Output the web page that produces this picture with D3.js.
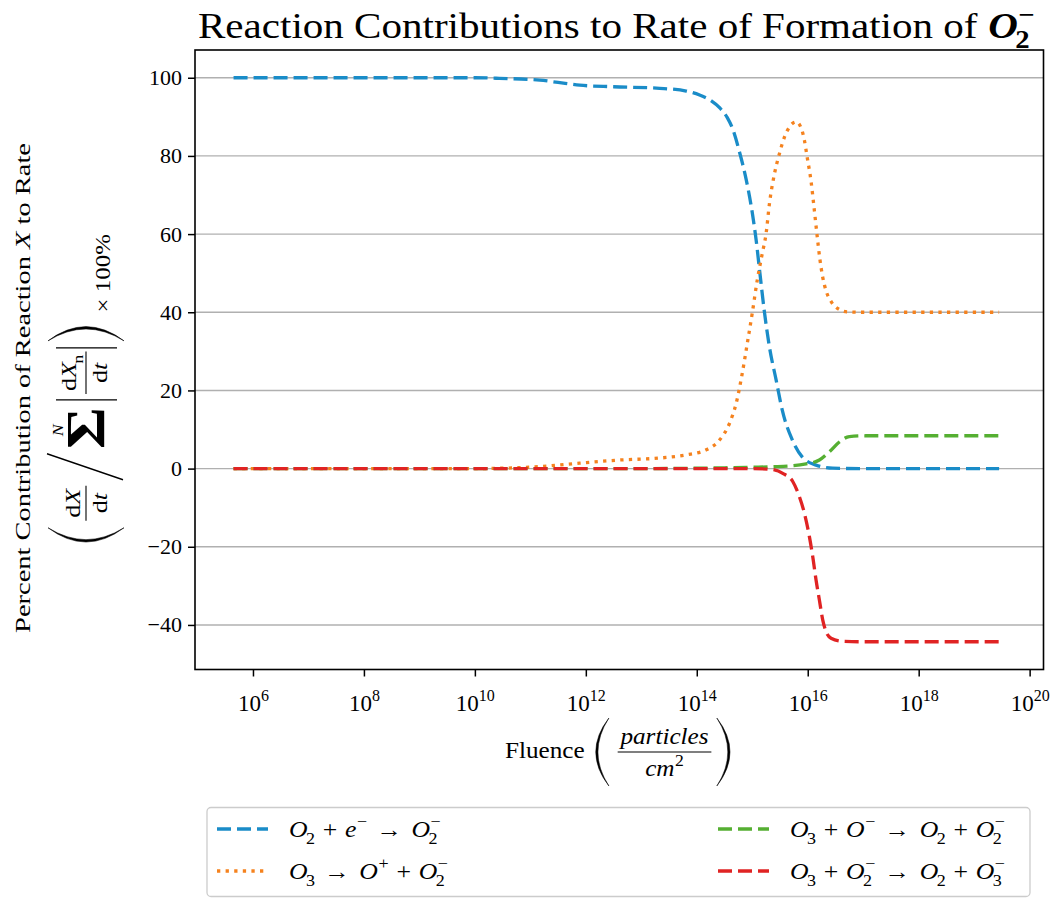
<!DOCTYPE html>
<html>
<head>
<meta charset="utf-8">
<script src="https://cdn.jsdelivr.net/npm/d3@7/dist/d3.min.js"></script>
<style>
  body { margin: 0; background: #ffffff; }
  svg { display: block; }
  text { font-family: "Liberation Serif", "DejaVu Serif", serif; fill: #000; white-space: pre; }
</style>
</head>
<body>
<svg id="chart" width="1057" height="899"></svg>
<script>
// log10 of fluence (particles/cm^2) and percent contribution of each reaction
const attachExp = [5.65, 6, 7, 8, 9, 10, 10.44, 11.17, 11.5, 11.89, 12.5, 13.33, 13.81, 14.05, 14.25, 14.42, 14.55, 14.65, 14.77, 14.89, 15.0, 15.07, 15.13, 15.22, 15.31, 15.43, 15.54, 15.72, 15.9, 16.15, 16.45, 17, 18, 19.45];
const attachPct = [100, 100, 100, 100, 100, 100, 99.85, 99.4, 98.8, 98.1, 97.7, 97.3, 96.6, 95.6, 94.2, 92.2, 89.8, 86.8, 81, 74, 65.5, 58.5, 51, 40, 31.1, 22.7, 15, 7.4, 3, 0.9, 0.1, 0, 0, 0];

const dissocExp = [5.65, 8, 10, 10.5, 11.17, 11.89, 12.61, 13.33, 13.81, 14.17, 14.41, 14.59, 14.71, 14.82, 14.91, 15.0, 15.09, 15.18, 15.25, 15.31, 15.40, 15.49, 15.58, 15.67, 15.79, 15.88, 15.94, 15.99, 16.06, 16.12, 16.17, 16.22, 16.27, 16.33, 16.42, 16.57, 16.72, 17, 18, 19.45];
const dissocPct = [0, 0, 0, 0.1, 0.5, 1.4, 2.2, 2.7, 3.5, 4.8, 7.3, 11.6, 16.7, 24.4, 32, 39.8, 48.2, 55, 60.2, 67.8, 75.4, 80.6, 84.8, 87.4, 88.7, 87.2, 84, 79.7, 73.5, 66, 59.5, 53.5, 49, 45.5, 42.8, 40.7, 40.1, 40, 40, 40];

const chargeExp = [5.65, 10, 13, 14, 14.5, 15, 15.43, 15.97, 16.21, 16.39, 16.57, 16.75, 17.05, 18, 19.45];
const chargePct = [0, 0, 0, 0.1, 0.2, 0.35, 0.5, 1.2, 2.2, 4.3, 6.8, 8.2, 8.4, 8.4, 8.4];

const transferExp = [5.65, 10, 14, 15, 15.31, 15.55, 15.73, 15.85, 15.94, 16.03, 16.09, 16.15, 16.21, 16.27, 16.33, 16.42, 16.63, 17, 18, 19.45];
const transferPct = [0, 0, 0, 0, -0.15, -1.2, -3.3, -7.2, -11.4, -17.4, -22.5, -28.5, -33.6, -38.7, -41.7, -43.4, -44.2, -44.3, -44.3, -44.3];

const reactionLabels = [
  "O_2 + e^- → O_2^-",
  "O_3 → O^+ + O_2^-",
  "O_3 + O^- → O_2 + O_2^-",
  "O_3 + O_2^- → O_2 + O_3^-"
];
const yTicks = [-40, -20, 0, 20, 40, 60, 80, 100];
const xTickExps = [6, 8, 10, 12, 14, 16, 18, 20];
const titleText = "Reaction Contributions to Rate of Formation of ";
const titleSpecies = "O_2^-";
const yLabelParts = ["Percent Contribution of Reaction ", "X", " to Rate"];
const xLabelWord = "Fluence";
const xLabelNum = "particles";
const xLabelDen = "cm^2";

// drawing styles, one per reaction
const lineStyles = [
  { color: "#1a8cc8", dash: "14,6" },
  { color: "#f5821e", dash: "3.3,5.3" },
  { color: "#55af32", dash: "14,6" },
  { color: "#e02323", dash: "14,6" }
];

const series = [
  { exp: attachExp, pct: attachPct },
  { exp: dissocExp, pct: dissocPct },
  { exp: chargeExp, pct: chargePct },
  { exp: transferExp, pct: transferPct }
];

const svg = d3.select("#chart");
const M = { left: 195, right: 1043.5, top: 50, bottom: 669.5 };

const x = d3.scaleLog().domain([10 ** 4.955, 10 ** 20.25]).range([M.left, M.right]);
const y = d3.scaleLinear().domain([-51.4, 107.1]).range([M.bottom, M.top]);

// ---- small math-text helpers ----
// letters are italic unless prefixed with "!", scripts are upright
function parseMath(src) {
  const toks = [];
  let i = 0, roman = false;
  while (i < src.length) {
    const c = src[i];
    if (c === " ") { i++; continue; }
    if (c === "!") { roman = true; i++; continue; }
    if (c === "_" || c === "^") {
      const s = src[i + 1] === "-" ? "−" : src[i + 1];
      const last = toks[toks.length - 1];
      if (c === "_") last.sub = s; else last.sup = s;
      i += 2; continue;
    }
    toks.push({ s: c, italic: !roman && /[A-Za-z]/.test(c), op: c === "+" || c === "→" });
    roman = false;
    i++;
  }
  return toks;
}

function drawMath(parent, x0, y0, src, fs, weight, opPad) {
  let cx = x0;
  const pads = opPad || { "+": 0.22, "→": 0.28 };
  for (const t of parseMath(src)) {
    const pad = t.op ? pads[t.s] * fs : 0;
    cx += pad;
    const el = parent.append("text")
      .attr("x", cx).attr("y", y0)
      .attr("font-size", fs)
      .attr("font-style", t.italic ? "italic" : "normal")
      .attr("font-weight", weight || "normal")
      .text(t.s);
    cx += el.node().getComputedTextLength();
    let sw = 0;
    const sfs = fs * 0.7;
    if (t.sub) {
      const s = parent.append("text").attr("x", cx - (t.italic ? 0.06 * fs : 0)).attr("y", y0 + 0.3 * fs)
        .attr("font-size", sfs).attr("font-weight", weight || "normal").text(t.sub);
      sw = Math.max(sw, s.node().getComputedTextLength() - (t.italic ? 0.06 * fs : 0));
    }
    if (t.sup) {
      const s = parent.append("text").attr("x", cx + 0.02 * fs).attr("y", y0 - 0.42 * fs)
        .attr("font-size", sfs).attr("font-weight", weight || "normal").text(t.sup);
      sw = Math.max(sw, s.node().getComputedTextLength() + 0.02 * fs);
    }
    cx += sw + pad;
  }
  return cx - x0;
}

function bigParen(g, x0, top, bot, w, open) {
  const mid = (top + bot) / 2, t = 2.0;
  let p;
  if (open) {
    const ax = x0 + w, co = 2 * x0 - ax, ci = 2 * (x0 + t) - ax;
    p = `M${ax},${top} Q${co},${mid} ${ax},${bot} Q${ci},${mid} ${ax},${top} Z`;
  } else {
    const ax = x0, co = 2 * (x0 + w) - ax, ci = 2 * (x0 + w - t) - ax;
    p = `M${ax},${top} Q${co},${mid} ${ax},${bot} Q${ci},${mid} ${ax},${top} Z`;
  }
  g.append("path").attr("d", p).attr("fill", "#000").attr("stroke", "#000").attr("stroke-width", 0.5);
}

function frac(g, x0, num, den, fs, gapNum, gapDen) {
  const gn = g.append("g"), gd = g.append("g");
  const wn = drawMath(gn, 0, 0, num, fs), wd = drawMath(gd, 0, 0, den, fs);
  const w = Math.max(wn, wd) + 5;
  gn.attr("transform", `translate(${x0 + (w - wn) / 2},${-gapNum})`);
  gd.attr("transform", `translate(${x0 + (w - wd) / 2},${(gapDen || gapNum) + fs * 0.68})`);
  g.append("line").attr("x1", x0).attr("x2", x0 + w).attr("y1", 0).attr("y2", 0)
    .attr("stroke", "#000").attr("stroke-width", 1.1);
  return w;
}

// ---- grid ----
svg.append("g").selectAll("line").data(yTicks).join("line")
  .attr("x1", M.left).attr("x2", M.right)
  .attr("y1", d => y(d)).attr("y2", d => y(d))
  .attr("stroke", "#b0b0b0").attr("stroke-width", 1.4);

// ---- series ----
const line = d3.line()
  .x(d => x(10 ** d[0]))
  .y(d => y(d[1]))
  .curve(d3.curveMonotoneX);

svg.append("g").selectAll("path").data(series).join("path")
  .attr("d", s => line(s.exp.map((e, i) => [e, s.pct[i]])))
  .attr("fill", "none")
  .attr("stroke", (s, i) => lineStyles[i].color)
  .attr("stroke-width", 3.3)
  .attr("stroke-dasharray", (s, i) => lineStyles[i].dash);

// ---- axes ----
const yAxis = svg.append("g").attr("transform", `translate(${M.left},0)`)
  .call(d3.axisLeft(y).tickValues(yTicks).tickSize(7).tickPadding(6)
    .tickFormat(d => d < 0 ? "−" + Math.abs(d) : String(d)));
yAxis.select(".domain").remove();
yAxis.selectAll(".tick line").attr("stroke", "#000").attr("stroke-width", 1.5);
yAxis.selectAll(".tick text").attr("font-size", 22).attr("font-family", null).attr("fill", "#000");

const xAxis = svg.append("g").attr("transform", `translate(0,${M.bottom})`)
  .call(d3.axisBottom(x).tickValues(xTickExps.map(e => 10 ** e)).tickSize(7).tickFormat(() => ""));
xAxis.select(".domain").remove();
xAxis.selectAll(".tick line").attr("stroke", "#000").attr("stroke-width", 1.5);
xAxis.selectAll(".tick text").remove();
xAxis.selectAll(".tick").each(function (d, i) {
  const t = d3.select(this).append("text")
    .attr("y", 41).attr("text-anchor", "middle").attr("font-size", 23).attr("fill", "#000");
  t.append("tspan").text("10");
  t.append("tspan").attr("dy", -10).attr("font-size", 16).text(xTickExps[i]);
});

svg.append("rect")
  .attr("x", M.left).attr("y", M.top)
  .attr("width", M.right - M.left).attr("height", M.bottom - M.top)
  .attr("fill", "none").attr("stroke", "#000").attr("stroke-width", 1.6);

// ---- title ----
const titleG = svg.append("g");
const titleInner = titleG.append("g");
const tt = titleInner.append("text").attr("x", 0).attr("y", 38).attr("font-size", 35).text(titleText);
const tw0 = tt.node().getComputedTextLength();
const tw1 = drawMath(titleInner, tw0, 38, titleSpecies, 35, "bold");
const titleScale = 837 / (tw0 + tw1);
titleG.attr("transform", `translate(198,0) scale(${titleScale},1)`);

// ---- y label ----
const yLabCenter = 388;
const yl1 = svg.append("g").attr("transform", `translate(30,${yLabCenter}) rotate(-90)`);
const yl1t = yl1.append("text").attr("font-size", 21).attr("text-anchor", "middle");
yLabelParts.forEach((p, i) => yl1t.append("tspan").attr("font-style", i === 1 ? "italic" : "normal").text(p));
const yl1w = yl1t.node().getComputedTextLength();
yl1t.attr("transform", `scale(${490 / yl1w},1)`);

const yl2 = svg.append("g").attr("transform", `translate(86,${yLabCenter}) rotate(-90)`);
const yl2i = yl2.append("g");
let c = 0;
bigParen(yl2i, c, -38, 38, 12, true); c += 18;
c += frac(yl2i, c, "!dX", "!d t", 22, 6) + 5;
yl2i.append("line").attr("x1", c).attr("y1", 37).attr("x2", c + 22).attr("y2", -39)
  .attr("stroke", "#000").attr("stroke-width", 1.3);
c += 26;
const sig = yl2i.append("text").attr("x", c).attr("y", 18).attr("font-size", 54).attr("font-weight", "bold").text("Σ");
const sw = sig.node().getComputedTextLength();
yl2i.append("text").attr("x", c + sw / 2 - 2).attr("y", -23).attr("font-size", 15)
  .attr("font-style", "italic").attr("text-anchor", "middle").text("N");
c += sw + 6;
yl2i.append("line").attr("x1", c).attr("x2", c).attr("y1", -30).attr("y2", 31).attr("stroke", "#000").attr("stroke-width", 1.1);
c += 5;
c += frac(yl2i, c, "!dX_n", "!d t", 22, 10, 6);
c += 3;
yl2i.append("line").attr("x1", c).attr("x2", c).attr("y1", -30).attr("y2", 31).attr("stroke", "#000").attr("stroke-width", 1.1);
c += 6;
bigParen(yl2i, c, -38, 38, 12, false); c += 24;
yl2i.append("text").attr("x", c).attr("y", 24).attr("font-size", 21).text("× 100%");
const yb = yl2i.node().getBBox();
const ys = 308 / yb.width;
yl2i.attr("transform", `scale(${ys},1) translate(${-yb.x - yb.width / 2},0)`);

// ---- x label ----
const xl = svg.append("g");
const xli = xl.append("g");
const fw = xli.append("text").attr("x", 0).attr("y", 758).attr("font-size", 23).text(xLabelWord);
let cx = fw.node().getComputedTextLength() + 10;
bigParen(xli, cx, 718, 786, 12, true); cx += 20;
const fracG = xli.append("g").attr("transform", "translate(0,752)");
cx += frac(fracG, cx, xLabelNum, xLabelDen, 23, 8) + 5;
bigParen(xli, cx, 718, 786, 12, false); cx += 12;
xl.attr("transform", `translate(505,0) scale(${225 / cx},1)`);

// ---- legend ----
const leg = svg.append("g");
leg.append("rect").attr("x", 207).attr("y", 807.5).attr("width", 823).attr("height", 89)
  .attr("rx", 4).attr("fill", "#fff").attr("stroke", "#cccccc").attr("stroke-width", 1.3);
const legPos = [
  { x: 217, y: 829 }, { x: 217, y: 871 },
  { x: 718, y: 829 }, { x: 718, y: 871 }
];
reactionLabels.forEach((lab, i) => {
  const p = legPos[i];
  leg.append("line").attr("x1", p.x).attr("x2", p.x + 51).attr("y1", p.y).attr("y2", p.y)
    .attr("stroke", lineStyles[i].color).attr("stroke-width", 3.3)
    .attr("stroke-dasharray", lineStyles[i].dash);
  const lg = leg.append("g").attr("transform", `translate(${p.x + 72},${p.y + 8}) scale(1.12,1)`);
  drawMath(lg, 0, 0, lab, 23, null, { "+": 0.3, "→": 0.36 });
});
</script>
</body>
</html>
